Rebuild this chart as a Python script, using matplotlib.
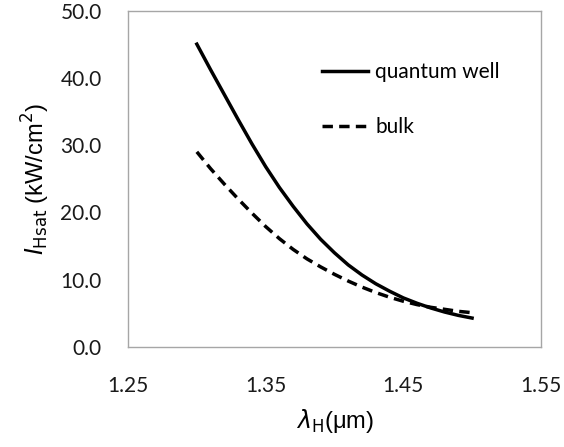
import matplotlib
matplotlib.use("Agg")
import matplotlib.pyplot as plt

# Wavelength (um) and saturation intensity (kW/cm^2)
wavelength = [1.30, 1.31, 1.32, 1.33, 1.34, 1.35, 1.36, 1.37, 1.38, 1.39, 1.40,
              1.41, 1.42, 1.43, 1.44, 1.45, 1.46, 1.47, 1.48, 1.49, 1.50]
i_qw = [45.0, 41.2, 37.5, 33.8, 30.2, 26.8, 23.7, 20.9, 18.3, 16.0, 14.0,
        12.2, 10.7, 9.4, 8.3, 7.3, 6.5, 5.8, 5.2, 4.7, 4.3]
i_bulk = [29.0, 26.5, 24.2, 22.0, 19.9, 17.9, 16.1, 14.5, 13.1, 11.9, 10.8,
          9.8, 8.9, 8.1, 7.4, 6.8, 6.3, 5.9, 5.6, 5.3, 5.1]

x_ticks = [1.25, 1.35, 1.45, 1.55]
y_ticks = [0, 10, 20, 30, 40, 50]

tick_font = "Lato"

fig = plt.figure(figsize=(5.64, 4.47), dpi=100)
ax = fig.add_axes([0.227, 0.2237, 0.732, 0.7528])

ax.plot(wavelength, i_qw, color="black", lw=2.5, label="quantum well")
ax.plot(wavelength, i_bulk, color="black", lw=2.5, dashes=(3.0, 1.8),
        label="bulk")

ax.set_xlim(1.25, 1.55)
ax.set_ylim(0, 50)
ax.set_xticks(x_ticks)
ax.set_yticks(y_ticks)
ax.set_xticklabels([f"{v:.2f}" for v in x_ticks], fontname=tick_font, fontsize=15)
ax.set_yticklabels([f"{v:.1f}" for v in y_ticks], fontname=tick_font, fontsize=15)
ax.tick_params(axis="both", length=0, colors="#1a1a1a")
ax.tick_params(axis="y", pad=19)
ax.tick_params(axis="x", pad=21)

for sp in ax.spines.values():
    sp.set_color("#a6a6a6")
    sp.set_linewidth(1.0)

ax.set_xlabel(r"$\lambda_\mathrm{H}$(μm)", fontname="Liberation Sans",
              fontsize=17, labelpad=8)
ax.set_ylabel(r"$I_\mathrm{Hsat}$ (kW/cm$^2$)", fontname="Liberation Sans",
              fontsize=17, labelpad=6)

leg = ax.legend(loc="upper left", bbox_to_anchor=(0.445, 0.878), frameon=False,
                prop={"family": tick_font, "size": 15}, handlelength=2.2,
                handletextpad=0.35, labelspacing=1.68, borderpad=0)

fig.savefig("out.png", dpi=100)
